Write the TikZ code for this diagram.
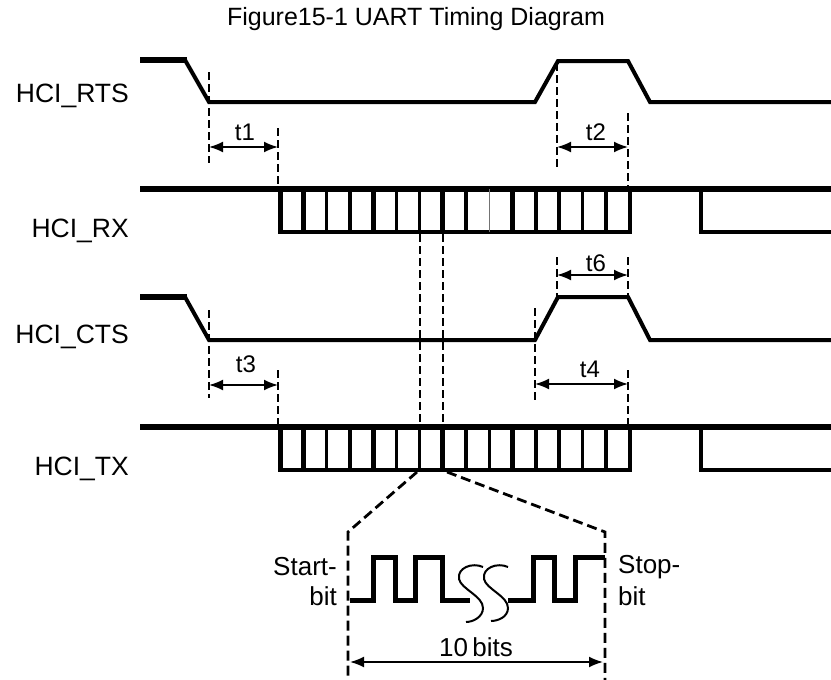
\documentclass[tikz,border=0pt]{standalone}
\usepackage{fontspec}
\setmainfont{Liberation Sans}
\usetikzlibrary{arrows.meta}
\begin{document}
\begin{tikzpicture}[x=1pt,y=-1pt,
  sig/.style={line width=4pt, line join=miter, line cap=butt},
  sigthick/.style={line width=5.5pt, line cap=butt},
  stub/.style={line width=6.5pt, line cap=butt},
  bitn/.style={line width=3.5pt},
  bitk/.style={line width=5pt},
  bitt/.style={line width=1.8pt, black!55},
  guide/.style={line width=2.4pt, dash pattern=on 8pt off 4pt},
  trap/.style={line width=2.8pt, dash pattern=on 10pt off 5pt},
  dim/.style={line width=1.8pt, {Latex[length=14pt,width=11pt]}-{Latex[length=14pt,width=11pt]}},
  wave/.style={line width=5pt, line join=miter},
  ess/.style={line width=2pt},
  sname/.style={font=\fontsize{26.5}{30}\selectfont, anchor=base east, inner sep=0pt},
  tl/.style={font=\fontsize{24}{28}\selectfont, anchor=base, inner sep=0pt},
  bl/.style={font=\fontsize{26}{30}\selectfont, inner sep=0pt}
]
\useasboundingbox (0,0) rectangle (831,680);
\fill[white] (0,0) rectangle (831,680);

% title
\node[font=\fontsize{25}{29}\selectfont, anchor=base, inner sep=0pt] (title) at (416,26) {Figure15-1 UART Timing Diagram};

% signal names
\node[sname] (nrts) at (129,102) {HCI\_RTS};
\node[sname] (nrx) at (129,237) {HCI\_RX};
\node[sname] (ncts) at (129,343) {HCI\_CTS};
\node[sname] (ntx) at (129,475) {HCI\_TX};

% RTS
\draw[stub] (140,60) -- (187,60);
\draw[sig] (185,60) -- (209,102) -- (535,102) -- (558,61) -- (628,61) -- (650,102) -- (831,102);

% CTS
\draw[stub] (140,297) -- (187,297);
\draw[sig] (185,297) -- (209,340) -- (535,340) -- (558,297) -- (628,297) -- (650,340) -- (831,340);

% RX
\draw[sigthick] (140,189) -- (831,189);
\draw[sig] (280,189) -- (280,232) -- (630,232) -- (630,189);
\draw[sig] (701,189) -- (701,232) -- (831,232);
\foreach \i/\s in {0/bitk,1/bitk,2/bitn,3/bitn,4/bitk,5/bitn,6/bitn,7/bitk,8/bitn,9/bitt,10/bitk,11/bitn,12/bitn,13/bitn,14/bitn}
  \draw[\s] ({280+23.27*\i},189) -- ({280+23.27*\i},232);

% TX
\draw[sigthick] (140,427) -- (831,427);
\draw[sig] (280,427) -- (280,470) -- (630,470) -- (630,427);
\draw[sig] (701,427) -- (701,470) -- (831,470);
\foreach \i/\s in {0/bitk,1/bitk,2/bitn,3/bitn,4/bitk,5/bitn,6/bitn,7/bitk,8/bitn,9/bitn,10/bitk,11/bitn,12/bitn,13/bitn,14/bitn}
  \draw[\s] ({280+23.27*\i},427) -- ({280+23.27*\i},470);

% guides between RX and TX
\draw[guide] (420,234) -- (420,427);
\draw[guide] (443,234) -- (443,427);

% t1
\draw[guide] (209,72) -- (209,163);
\draw[guide] (278,128) -- (278,189);
\coordinate (t1a) at (209,147); \coordinate (t1b) at (278,147);
\draw[dim] (t1a) -- (t1b);
\node[tl] (t1) at (245,140) {t1};

% t2
\draw[guide] (557,63) -- (557,168);
\draw[guide] (628,113) -- (628,189);
\coordinate (t2a) at (557,147); \coordinate (t2b) at (628,147);
\draw[dim] (t2a) -- (t2b);
\node[tl] (t2) at (596,140) {t2};

% t3
\draw[guide] (209,310) -- (209,398);
\draw[guide] (278,370) -- (278,427);
\coordinate (t3a) at (209,385); \coordinate (t3b) at (278,385);
\draw[dim] (t3a) -- (t3b);
\node[tl] (t3) at (246,372) {t3};

% t6
\draw[guide] (557,257) -- (557,297);
\draw[guide] (628,257) -- (628,297);
\coordinate (t6a) at (557,275); \coordinate (t6b) at (628,275);
\draw[dim] (t6a) -- (t6b);
\node[tl] (t6) at (596,271) {t6};

% t4
\draw[guide] (535,308) -- (535,403);
\draw[guide] (628,370) -- (628,427);
\coordinate (t4a) at (535,384); \coordinate (t4b) at (628,384);
\draw[dim] (t4a) -- (t4b);
\node[tl] (t4) at (590,377) {t4};

% zoom trapezoid
\draw[trap] (417,472) -- (348,532) -- (348,680);
\draw[trap] (447,472) -- (605,532) -- (605,680);

% bit waveform
\draw[wave] (350,600) -- (373,600) -- (373,557) -- (395,557) -- (395,600) -- (415,600) -- (415,557) -- (442,557) -- (442,600) -- (470,600);
\draw[wave] (508,600) -- (533,600) -- (533,557) -- (554,557) -- (554,600) -- (575,600) -- (575,557) -- (605,557);
\draw[ess] (483,567) .. controls (472,562) and (457,568) .. (459,579) .. controls (461,589) and (483,596) .. (483,608) .. controls (483,617) and (473,622) .. (466,622);
\draw[ess] (508,567) .. controls (497,562) and (482,568) .. (484,579) .. controls (486,589) and (508,596) .. (508,608) .. controls (508,617) and (498,621) .. (491,621);

% labels
\node[bl, anchor=base east] (start1) at (337,575) {Start-};
\node[bl, anchor=base east] (start2) at (337,605) {bit};
\node[bl, anchor=base west] (stop1) at (618,573) {Stop-};
\node[bl, anchor=base west] (stop2) at (618,605) {bit};

% 10 bits
\coordinate (ba) at (350,662); \coordinate (bb) at (603,662);
\draw[dim] (ba) -- (bb);
\node[bl, anchor=base] (tenbits) at (476,656) {10\,bits};
\end{tikzpicture}
\end{document}
